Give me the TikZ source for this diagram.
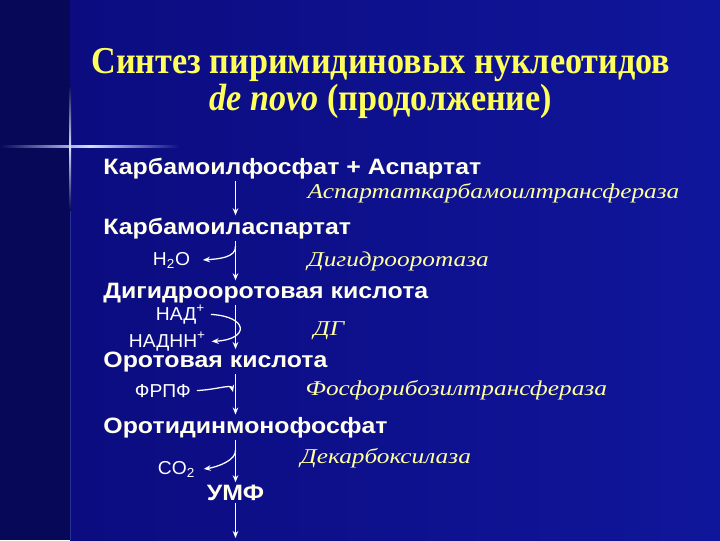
\documentclass[tikz,border=0pt]{standalone}
\usepackage{fontspec}
\setmainfont{Liberation Serif}
\setsansfont{Liberation Sans}
\newfontfamily\headingfont[FakeStretch=0.9]{Liberation Serif}
\newfontfamily\compoundfont[FakeStretch=1.12]{Liberation Sans}
\newfontfamily\sidefont[FakeStretch=1.03]{Liberation Sans}
\newfontfamily\enzymefont[FakeStretch=1.2]{Liberation Serif}
\usepackage{xcolor}
\usepackage{tikz}
\usetikzlibrary{arrows.meta}

\definecolor{bgleft}{RGB}{8,8,88}
\definecolor{bgmain}{RGB}{12,12,128}
\definecolor{bgright}{RGB}{16,22,155}
\definecolor{glint}{RGB}{215,225,255}
\definecolor{glintfaint}{RGB}{40,50,150}
\definecolor{titleyellow}{RGB}{255,255,90}
\definecolor{chemwhite}{RGB}{255,255,235}
\definecolor{enzyellow}{RGB}{255,255,160}

\begin{document}
\begin{tikzpicture}[x=0.025cm, y=-0.025cm,
        heading/.style={anchor=base, inner sep=0pt, text=titleyellow,
            font=\headingfont\bfseries\fontsize{27}{32}\selectfont},
        compound/.style={anchor=base west, inner sep=1.5pt, text=chemwhite,
            font=\compoundfont\bfseries\fontsize{15.8}{19}\selectfont},
        side/.style={anchor=base west, inner xsep=4pt, inner ysep=1.5pt, text=white,
            font=\sidefont\fontsize{13.3}{16}\selectfont},
        enzyme/.style={anchor=base west, inner sep=1pt, text=enzyellow,
            font=\enzymefont\itshape\fontsize{15}{18}\selectfont},
        flow/.style={draw=white, line width=0.9pt, -{Stealth[length=5pt, width=4pt]}}]
        % background
        \useasboundingbox (0, 0) rectangle (720, 540);
        \fill[bgleft] (0, 0) rectangle (70, 540);
        \shade[left color = bgmain, right color = bgright] (70, 0) rectangle (720, 540);
        \fill[glintfaint] (69.5, 210) rectangle (70.5, 540);
        \shade[left color = bgleft, right color = bgmain, middle color = glint]
            (0, 145) rectangle (180, 147.5);
        \shade[top color = bgleft, bottom color = bgleft, middle color = glint]
            (69, 85) rectangle (71, 210);

        % title
        \node[heading] (title1) at (381, 73) {Синтез пиримидиновых нуклеотидов};
        \node[heading] (title2) at (381, 110) {\textit{de novo} (продолжение)};

        % chain of compounds
        \coordinate (spine) at (235.5, 0);
        \node[compound] (kfa) at (101, 174) {Карбамоилфосфат + Аспартат};
        \node[compound] (kasp) at (101, 234) {Карбамоиласпартат};
        \node[compound] (dgok) at (101, 298) {Дигидрооротовая кислота};
        \node[compound] (ok) at (101, 367) {Оротовая кислота};
        \node[compound] (omf) at (101, 433) {Оротидинмонофосфат};
        \node[compound, anchor = base] (umf) at (235.5, 500) {УМФ};
        \coordinate (bottom) at (235.5, 538);

        % enzymes
        \node[enzyme] (atkt) at (306, 198) {Аспартаткарбамоилтрансфераза};
        \node[enzyme] (dgo) at (306, 266) {Дигидрооротаза};
        \node[enzyme] (dg) at (312, 335) {ДГ};
        \node[enzyme] (fprt) at (304, 395) {Фосфорибозилтрансфераза};
        \node[enzyme] (dk) at (299, 463) {Декарбоксилаза};

        % side substances
        \node[side] (h2o) at (147, 265) {H\textsubscript{2}O};
        \node[side] (nad) at (150, 320) {НАД\textsuperscript{+}};
        \node[side] (nadh) at (123, 347) {НАДНН\textsuperscript{+}};
        \node[side] (frpf) at (129, 397) {ФРПФ};
        \node[side] (co2) at (152, 474) {CO\textsubscript{2}};

        \draw[flow] (kfa.south -| spine) -- (kasp.north -| spine);
        \draw[flow] (kasp.south -| spine) -- (dgok.north -| spine);
        \draw[flow] (dgok.south -| spine) -- (ok.north -| spine);
        \draw[flow] (ok.south -| spine) -- (omf.north -| spine);
        \draw[flow] (omf.south -| spine) -- (umf.north -| spine);
        \draw[flow] (umf.south -| spine) -- (bottom);

        \coordinate (h2otop) at (235.5, 246);
        \coordinate (frpftip) at (233, 392);
        \coordinate (co2top) at (235.5, 450);
        \draw[flow] (h2otop) .. controls +(1, 12) and +(14, -1) .. ([xshift=5pt]h2o.east);
        \draw[flow] (nad.east) .. controls +(38, 2) and +(38, -2) .. (nadh.east);
        \draw[flow] (frpf.east) .. controls +(20, -1) and +(-2, -8) .. (frpftip);
        \draw[flow] (co2top) .. controls +(1, 10) and +(14, -2) .. ([xshift=2pt]co2.east);
    \end{tikzpicture}
\end{document}
